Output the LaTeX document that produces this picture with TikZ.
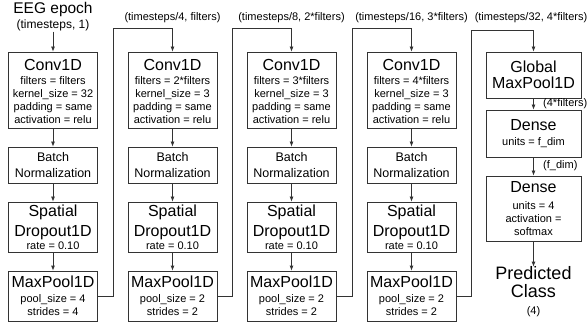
\documentclass[tikz,border=0pt]{standalone}
\usepackage{fontspec}
\setmainfont{Liberation Sans}
\usetikzlibrary{arrows.meta}

\newcommand{\ttl}[1]{{\fontsize{16}{16}\selectfont #1}}

\begin{document}
\begin{tikzpicture}[x=1pt,y=-1pt,
  blk/.style={draw=black!80,line width=0.8pt,minimum width=89pt,inner sep=0pt,align=center,font=\fontsize{11}{12.8}\selectfont},
  lbl/.style={font=\fontsize{11}{13}\selectfont,inner sep=0pt},
  arr/.style={draw=black!80,line width=0.8pt,-{Latex[length=5pt,width=4pt]}}]
\useasboundingbox (0,0) rectangle (587,326);

% input
\node[align=center,inner sep=0pt,font=\fontsize{12}{14}\selectfont] (in) at (53,17) {{\fontsize{15.5}{15.5}\selectfont EEG epoch}\\[1pt](timesteps, 1)};

% block 1
\node[blk,minimum height=76pt] (cv1) at (53,90) {\ttl{\rule{0pt}{14pt}Conv1D}\\[1.5pt]filters = filters\\kernel\_size = 32\\padding = same\\activation = relu};
\node[blk,minimum height=36pt,font=\fontsize{12.5}{15.5}\selectfont] (bn1) at (53,165) {Batch\\Normalization};
\node[blk,minimum height=50pt] (sd1) at (53,227) {\ttl{Spatial}\\[5pt]\ttl{Dropout1D}\\[0pt]rate = 0.10};
\node[blk,minimum height=50pt] (mp1) at (53,296) {\ttl{MaxPool1D}\\[2pt]pool\_size = 4\\strides = 4};

% block 2
\node[blk,minimum height=76pt] (cv2) at (172.5,90) {\ttl{\rule{0pt}{14pt}Conv1D}\\[1.5pt]filters = 2*filters\\kernel\_size = 3\\padding = same\\activation = relu};
\node[blk,minimum height=36pt,font=\fontsize{12.5}{15.5}\selectfont] (bn2) at (172.5,165) {Batch\\Normalization};
\node[blk,minimum height=50pt] (sd2) at (172.5,227) {\ttl{Spatial}\\[5pt]\ttl{Dropout1D}\\[0pt]rate = 0.10};
\node[blk,minimum height=50pt] (mp2) at (172.5,296) {\ttl{MaxPool1D}\\[2pt]pool\_size = 2\\strides = 2};

% block 3
\node[blk,minimum height=76pt] (cv3) at (291.5,90) {\ttl{\rule{0pt}{14pt}Conv1D}\\[1.5pt]filters = 3*filters\\kernel\_size = 3\\padding = same\\activation = relu};
\node[blk,minimum height=36pt,font=\fontsize{12.5}{15.5}\selectfont] (bn3) at (291.5,165) {Batch\\Normalization};
\node[blk,minimum height=50pt] (sd3) at (291.5,227) {\ttl{Spatial}\\[5pt]\ttl{Dropout1D}\\[0pt]rate = 0.10};
\node[blk,minimum height=50pt] (mp3) at (291.5,296) {\ttl{MaxPool1D}\\[2pt]pool\_size = 2\\strides = 2};

% block 4
\node[blk,minimum height=76pt] (cv4) at (411.5,90) {\ttl{\rule{0pt}{14pt}Conv1D}\\[1.5pt]filters = 4*filters\\kernel\_size = 3\\padding = same\\activation = relu};
\node[blk,minimum height=36pt,font=\fontsize{12.5}{15.5}\selectfont] (bn4) at (411.5,165) {Batch\\Normalization};
\node[blk,minimum height=50pt] (sd4) at (411.5,227) {\ttl{Spatial}\\[5pt]\ttl{Dropout1D}\\[0pt]rate = 0.10};
\node[blk,minimum height=50pt] (mp4) at (411.5,296) {\ttl{MaxPool1D}\\[2pt]pool\_size = 2\\strides = 2};

% head
\node[blk,minimum width=95pt,minimum height=46pt] (gmp) at (533.5,75) {\ttl{Global}\\[3pt]\ttl{MaxPool1D}};
\node[blk,minimum width=95pt,minimum height=47pt] (fc1) at (533.5,133.5) {\ttl{Dense}\\[3pt]units = f\_dim};
\node[blk,minimum width=95pt,minimum height=65pt] (fc2) at (533.5,208.5) {\ttl{Dense}\\[4pt]units = 4\\activation =\\softmax};
\node[align=center,inner sep=0pt,font=\fontsize{18}{18}\selectfont] (out) at (533.5,292) {Predicted\\Class\\[-1pt]{\fontsize{11}{11}\selectfont (4)}};

% shapes between blocks
\node[lbl] (s2) at (172.5,18) {(timesteps/4, filters)};
\node[lbl] (s3) at (291.5,18) {(timesteps/8, 2*filters)};
\node[lbl] (s4) at (411.5,18) {(timesteps/16, 3*filters)};
\node[lbl] (s5) at (531,18) {(timesteps/32, 4*filters)};
\node[lbl,anchor=west] (s6) at (543,104) {(4*filters)};
\node[lbl,anchor=west] (s7) at (543,166) {(f\_dim)};

% arrows
\draw[arr] (in) -- (cv1);
\foreach \i in {1,2,3,4}{
  \draw[arr] (cv\i) -- (bn\i);
  \draw[arr] (bn\i) -- (sd\i);
  \draw[arr] (sd\i) -- (mp\i);
}
\draw[arr] (mp1.east) -- ++(15.5,0) |- ([yshift=23pt]cv2.north) -- (cv2.north);
\draw[arr] (mp2.east) -- ++(15,0) |- ([yshift=23pt]cv3.north) -- (cv3.north);
\draw[arr] (mp3.east) -- ++(15.5,0) |- ([yshift=23pt]cv4.north) -- (cv4.north);
\draw[arr] (mp4.east) -- ++(15,0) |- ([yshift=21pt]gmp.north) -- (gmp.north);
\draw[arr] (gmp) -- (fc1);
\draw[arr] (fc1) -- (fc2);
\draw[arr] (fc2.south) -- (out.north);
\end{tikzpicture}
\end{document}
